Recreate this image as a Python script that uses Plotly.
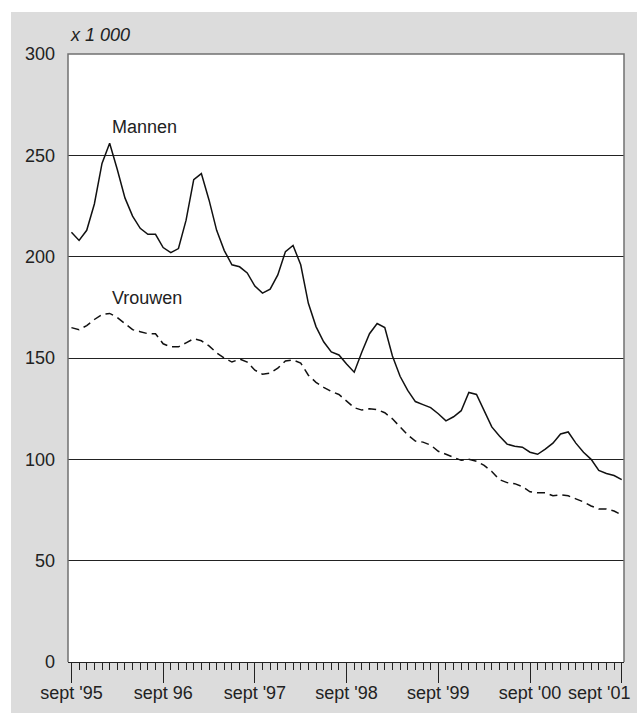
import plotly.graph_objects as go

months = list(range(73))  # sept '95 .. sept '01, monthly
mannen = [212, 208, 213, 226, 246, 256, 243, 229, 220, 214, 211, 211,
          204.5, 202, 204, 218, 238, 241, 228, 213, 203, 196, 195, 192,
          185.5, 182, 184, 191, 202.5, 205.5, 196, 177, 165.5, 158, 153, 151.5,
          147, 143, 153, 162, 167, 165, 151, 141, 134, 128.5, 127, 125.5,
          122.5, 119, 121, 124, 133, 132, 124, 116, 111.5, 107.5, 106.5, 106,
          103.5, 102.5, 105, 108, 112.5, 113.5, 108, 103.5, 100, 94.5, 93, 92,
          90]
vrouwen = [165, 164, 166, 169, 171.5, 172, 170, 167, 164, 163, 162, 162,
           157, 155.5, 155.5, 157.5, 159.5, 158.5, 156, 152.5, 150, 148, 149.5, 148,
           144, 142, 142.5, 145, 148.5, 149, 147.5, 141.5, 138, 135.5, 133.5, 132,
           128.5, 125.5, 124.3, 125, 124.5, 123, 120, 116, 112, 109, 108.5, 107,
           104, 102.5, 101, 99.5, 100, 99, 97, 94, 90, 88.5, 88, 86.5,
           84, 83.5, 83.5, 82, 82.5, 82, 80.5, 79, 77, 75.5, 75.5, 74.5,
           72.5]
major_vals = [0, 12, 24, 36, 48, 60, 72]
major_text = ["sept '95", "sept 96", "sept '97", "sept '98", "sept '99", "sept '00",
              "sept '01" + "\u00a0" * 9]
y_ticks = [0, 50, 100, 150, 200, 250, 300]

FONT = "Liberation Sans, Arial, sans-serif"
FS = 18
W, H = 637, 713
L, R, T, B = 68, 13, 54, 51
pw, ph = W - L - R, H - T - B

fig = go.Figure()
fig.add_trace(go.Scatter(x=months, y=mannen, mode="lines", name="Mannen",
                         line=dict(color="#111111", width=1.5)))
fig.add_trace(go.Scatter(x=months, y=vrouwen, mode="lines", name="Vrouwen",
                         line=dict(color="#111111", width=1.5, dash="8px,5px")))

fig.update_layout(
    width=W, height=H,
    margin=dict(l=L, r=R, t=T, b=B, autoexpand=False),
    paper_bgcolor="#dcdcdc", plot_bgcolor="white",
    showlegend=False,
    font=dict(family=FONT, size=FS, color="#222222"),
    xaxis=dict(range=[-0.45, 72.3], tickmode="array", tickvals=major_vals, ticktext=major_text,
               ticks="outside", ticklen=20, tickwidth=1, tickcolor="#222222",
               minor=dict(tickmode="array", tickvals=months, ticks="outside", ticklen=7,
                          tickwidth=1, tickcolor="#222222"),
               showgrid=False, zeroline=False, showline=True, linecolor="#222222", linewidth=1,
               tickfont=dict(size=FS), ticklabeloverflow="allow", ticklabelstandoff=-6,
               automargin=False, fixedrange=True),
    yaxis=dict(range=[0, 300], tickmode="array", tickvals=y_ticks,
               showgrid=True, gridcolor="#222222", gridwidth=1, zeroline=False,
               showline=False, ticks="", ticklabelstandoff=12,
               tickfont=dict(size=FS), automargin=False, fixedrange=True),
    shapes=[
        dict(type="rect", xref="paper", yref="paper", x0=-1, x1=2,
             y0=(H - B - 12) / ph, y1=2, fillcolor="white", line=dict(width=0), layer="below"),
        dict(type="rect", xref="paper", yref="paper", x0=-1, x1=(11 - L) / pw,
             y0=-1, y1=2, fillcolor="white", line=dict(width=0), layer="below"),
        dict(type="path", xref="paper", yref="paper", path="M 0,0 L 0,1 L 1,1 L 1,0",
             line=dict(color="#707070", width=1.5), layer="above"),
    ],
    annotations=[
        dict(text="<i>x 1 000</i>", xref="paper", yref="paper", x=0, y=(H - B - 35) / ph,
             xanchor="left", yanchor="middle", showarrow=False, font=dict(size=FS)),
        dict(text="Mannen", xref="x", yref="y", x=5.1, y=264, xanchor="left", yanchor="middle",
             showarrow=False, font=dict(size=FS)),
        dict(text="Vrouwen", xref="x", yref="y", x=5.1, y=179.6, xanchor="left", yanchor="middle",
             showarrow=False, font=dict(size=FS)),
    ],
)

fig.write_html("out.html", config={"displayModeBar": False},
               post_script="document.body.style.margin='0';")
